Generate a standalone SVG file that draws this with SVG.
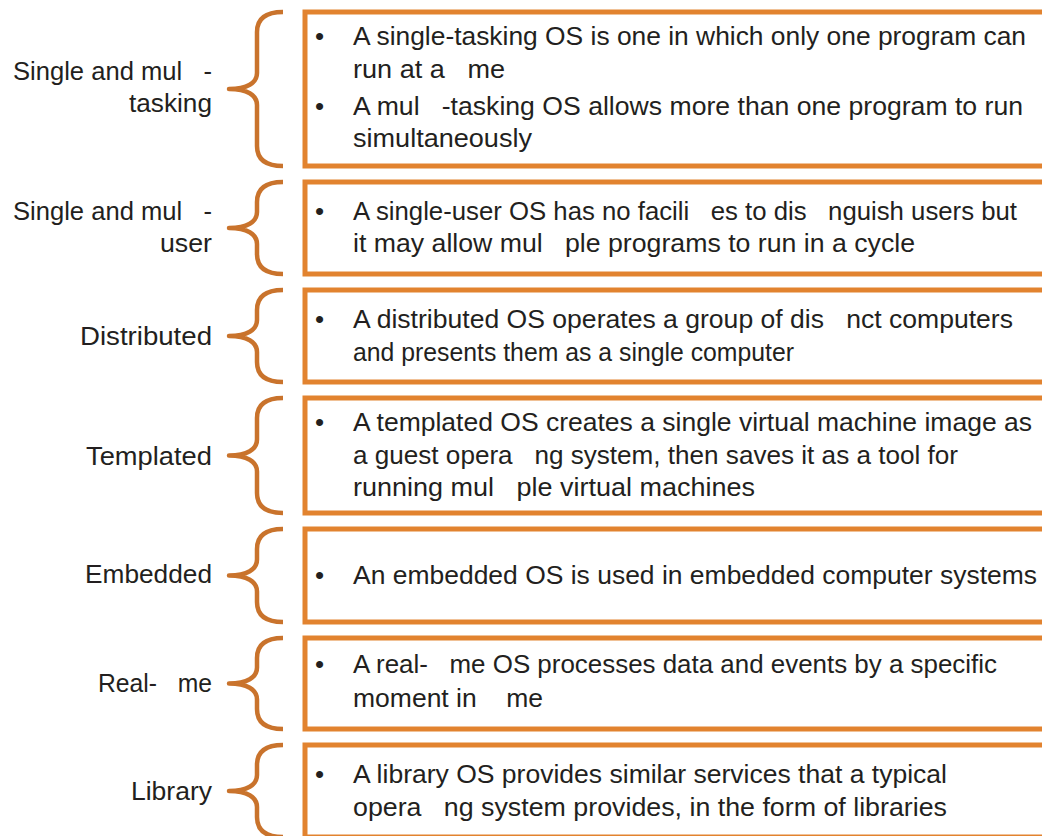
<svg xmlns="http://www.w3.org/2000/svg" width="1042" height="836" viewBox="0 0 1042 836" xml:space="preserve">
  <style>
    .box { fill: #ffffff; stroke: #E2832F; stroke-width: 5; }
    .brace { fill: none; stroke: #C9732C; stroke-width: 4.5; stroke-linejoin: round; }
    .txt { font-family: "Liberation Sans", Arial, sans-serif; font-size: 26px; fill: #231F20; white-space: pre; }
    .lbl { text-anchor: end; }
    .bul { font-size: 26px; }
  </style>
  <rect width="1042" height="836" fill="#ffffff"/>

  <!-- braces linking each category to its description box -->
  <g id="connectors">
    <path class="brace" d="M283,12 C266,12 257,18 257,32 L257,73 C257,83 247,89 229,89 C247,89 257,95 257,105 L257,146 C257,160 266,166 283,166"/>
    <path class="brace" d="M283,182 C266,182 257,188 257,202 L257,212 C257,222 247,228 229,228 C247,228 257,234 257,244 L257,254 C257,268 266,274 283,274"/>
    <path class="brace" d="M283,290 C266,290 257,296 257,310 L257,320 C257,330 247,336 229,336 C247,336 257,342 257,352 L257,362 C257,376 266,382 283,382"/>
    <path class="brace" d="M283,398 C266,398 257,404 257,418 L257,439.5 C257,449.5 247,455.5 229,455.5 C247,455.5 257,461.5 257,471.5 L257,493 C257,507 266,513 283,513"/>
    <path class="brace" d="M283,529 C266,529 257,535 257,549 L257,559.5 C257,569.5 247,575.5 229,575.5 C247,575.5 257,581.5 257,591.5 L257,602 C257,616 266,622 283,622"/>
    <path class="brace" d="M283,638 C266,638 257,644 257,658 L257,667.5 C257,677.5 247,683.5 229,683.5 C247,683.5 257,689.5 257,699.5 L257,709 C257,723 266,729 283,729"/>
    <path class="brace" d="M283,745 C266,745 257,751 257,765 L257,775 C257,785 247,791 229,791 C247,791 257,797 257,807 L257,817 C257,831 266,837 283,837"/>
  </g>

  <g id="multitasking">
    <text class="txt lbl" x="212" y="80" textLength="199" lengthAdjust="spacingAndGlyphs">Single and mul   -</text>
    <text class="txt lbl" x="212" y="112" textLength="83" lengthAdjust="spacingAndGlyphs">tasking</text>
    <rect class="box" x="305" y="12" width="760" height="154"/>
    <text class="txt bul" x="315" y="45">•</text>
    <text class="txt" x="353" y="45" textLength="673" lengthAdjust="spacingAndGlyphs">A single-tasking OS is one in which only one program can</text>
    <text class="txt" x="353" y="78" textLength="152" lengthAdjust="spacingAndGlyphs">run at a   me</text>
    <text class="txt bul" x="315" y="115">•</text>
    <text class="txt" x="353" y="115" textLength="670" lengthAdjust="spacingAndGlyphs">A mul   -tasking OS allows more than one program to run</text>
    <text class="txt" x="353" y="147" textLength="179" lengthAdjust="spacingAndGlyphs">simultaneously</text>
  </g>

  <g id="multiuser">
    <text class="txt lbl" x="212" y="220" textLength="199" lengthAdjust="spacingAndGlyphs">Single and mul   -</text>
    <text class="txt lbl" x="212" y="252" textLength="52" lengthAdjust="spacingAndGlyphs">user</text>
    <rect class="box" x="305" y="182" width="760" height="92"/>
    <text class="txt bul" x="315" y="220">•</text>
    <text class="txt" x="353" y="220" textLength="664" lengthAdjust="spacingAndGlyphs">A single-user OS has no facili   es to dis   nguish users but</text>
    <text class="txt" x="353" y="252" textLength="562" lengthAdjust="spacingAndGlyphs">it may allow mul   ple programs to run in a cycle</text>
  </g>

  <g id="distributed">
    <text class="txt lbl" x="212" y="345" textLength="132" lengthAdjust="spacingAndGlyphs">Distributed</text>
    <rect class="box" x="305" y="290" width="760" height="92"/>
    <text class="txt bul" x="315" y="328">•</text>
    <text class="txt" x="353" y="328" textLength="660" lengthAdjust="spacingAndGlyphs">A distributed OS operates a group of dis   nct computers</text>
    <text class="txt" x="353" y="361" textLength="441" lengthAdjust="spacingAndGlyphs">and presents them as a single computer</text>
  </g>

  <g id="templated">
    <text class="txt lbl" x="212" y="465" textLength="126" lengthAdjust="spacingAndGlyphs">Templated</text>
    <rect class="box" x="305" y="398" width="760" height="115"/>
    <text class="txt bul" x="315" y="431">•</text>
    <text class="txt" x="353" y="431" textLength="679" lengthAdjust="spacingAndGlyphs">A templated OS creates a single virtual machine image as</text>
    <text class="txt" x="353" y="464" textLength="605" lengthAdjust="spacingAndGlyphs">a guest opera   ng system, then saves it as a tool for</text>
    <text class="txt" x="353" y="496" textLength="402" lengthAdjust="spacingAndGlyphs">running mul   ple virtual machines</text>
  </g>

  <g id="embedded">
    <text class="txt lbl" x="212" y="583" textLength="127" lengthAdjust="spacingAndGlyphs">Embedded</text>
    <rect class="box" x="305" y="529" width="760" height="93"/>
    <text class="txt bul" x="315" y="584">•</text>
    <text class="txt" x="353" y="584" textLength="684" lengthAdjust="spacingAndGlyphs">An embedded OS is used in embedded computer systems</text>
  </g>

  <g id="realtime">
    <text class="txt lbl" x="212" y="692" textLength="114" lengthAdjust="spacingAndGlyphs">Real-   me</text>
    <rect class="box" x="305" y="638" width="760" height="91"/>
    <text class="txt bul" x="315" y="673">•</text>
    <text class="txt" x="353" y="673" textLength="644" lengthAdjust="spacingAndGlyphs">A real-   me OS processes data and events by a specific</text>
    <text class="txt" x="353" y="707" textLength="190" lengthAdjust="spacingAndGlyphs">moment in    me</text>
  </g>

  <g id="library">
    <text class="txt lbl" x="212" y="800" textLength="81" lengthAdjust="spacingAndGlyphs">Library</text>
    <rect class="box" x="305" y="745" width="760" height="92"/>
    <text class="txt bul" x="315" y="783">•</text>
    <text class="txt" x="353" y="783" textLength="594" lengthAdjust="spacingAndGlyphs">A library OS provides similar services that a typical</text>
    <text class="txt" x="353" y="816" textLength="594" lengthAdjust="spacingAndGlyphs">opera   ng system provides, in the form of libraries</text>
  </g>
</svg>
